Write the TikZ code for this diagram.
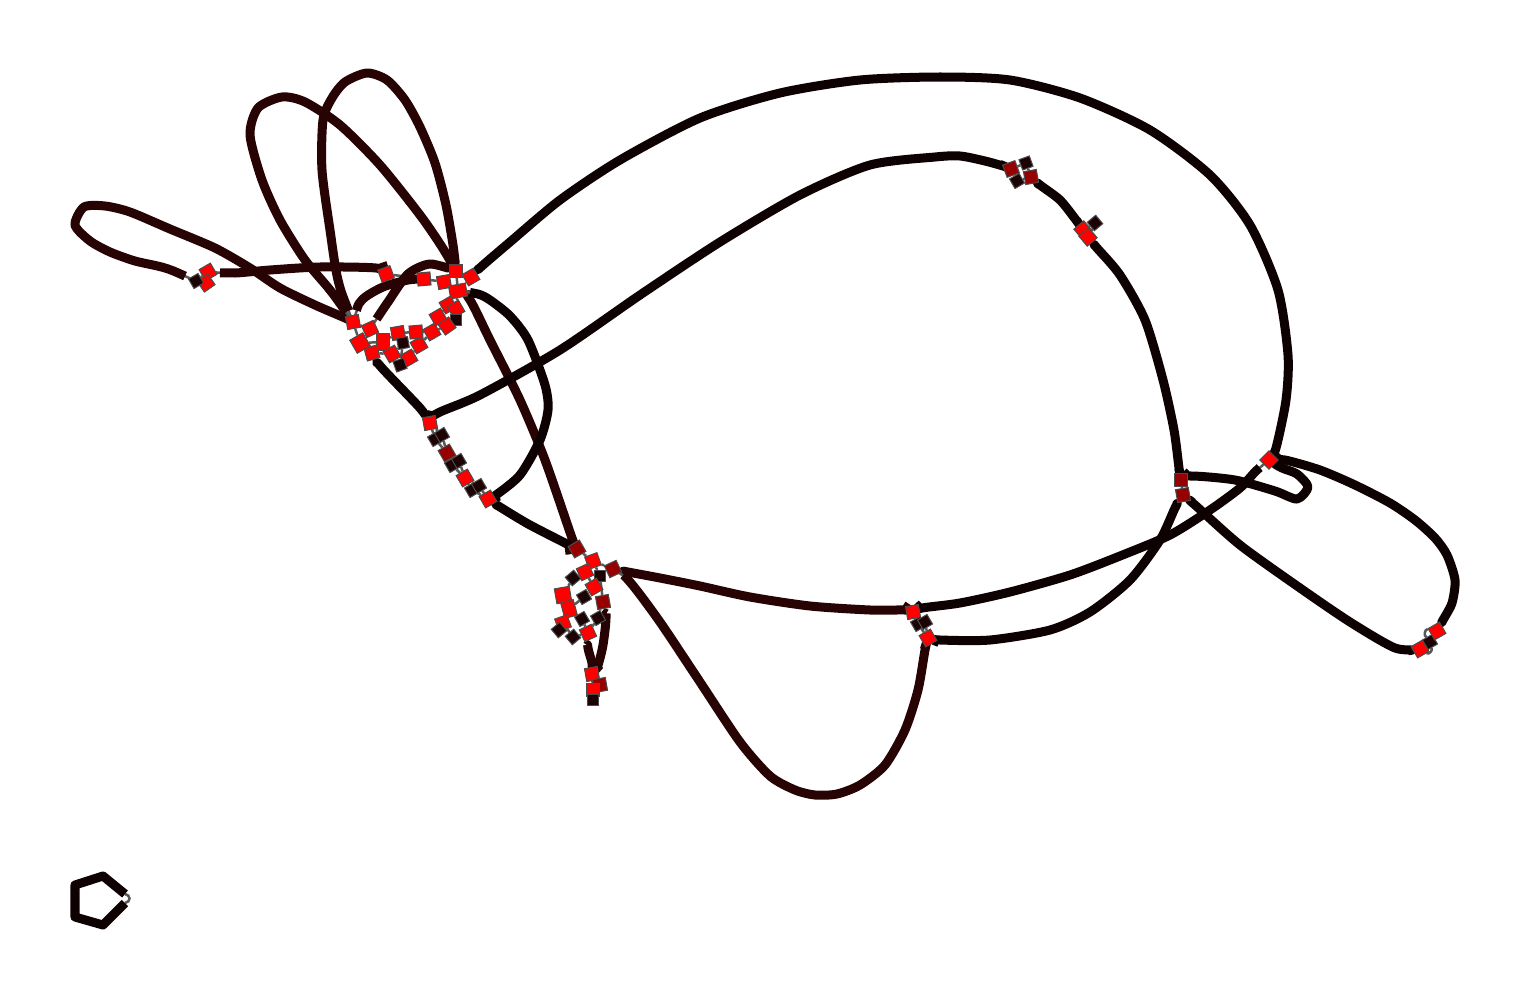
\documentclass[tikz,border=0pt]{standalone}
\usetikzlibrary{calc}
\definecolor{segc}{RGB}{40,3,3}
\definecolor{segk}{RGB}{14,1,1}
\definecolor{hotred}{RGB}{255,0,0}
\definecolor{midred}{RGB}{150,0,0}
\definecolor{darkred}{RGB}{28,2,2}
\pgfdeclarelayer{bg}
\pgfsetlayers{bg,main}
% one contig: grey link underneath, thick body on top
\newcommand{\segpath}[2][segk]{%
  \draw[link] plot[smooth, tension=0.45] coordinates {#2};
  \draw[seg,#1] plot[smooth, tension=0.45] coordinates {#2};}

\begin{document}
\begin{tikzpicture}[
  x=0.01cm, y=-0.01cm,
  rn/.style={draw=black!70, fill=hotred, line width=0.1mm, minimum size=1.3mm, inner sep=0pt},
  dn/.style={rn, fill=midred},
  kn/.style={rn, fill=darkred, minimum size=1.1mm},
  seg/.style={line width=0.9mm, line join=round, shorten <=1.2mm, shorten >=1.2mm},
  link/.style={draw=gray!70!black, line width=0.25mm}
]
  \useasboundingbox (0,0) rectangle (1530,1000);

  % left end
  \node[rn, rotate=30] (pa) at (208,272) {};
  \node[rn, rotate=35] (pb) at (206,283) {};
  \node[kn, rotate=30] (pc) at (196,281) {};

  % upper hub
  \node[rn, rotate=20] (h1) at (386,274) {};
  \node[rn, rotate=5]  (h2) at (424,279) {};
  \node[rn, rotate=10] (h3) at (444,282) {};
  \node[rn]            (h4) at (456,271) {};
  \node[rn, rotate=30] (h5) at (471,277) {};
  \node[rn, rotate=10, minimum width=1.7mm] (h6) at (458,291) {};
  \node[rn, rotate=30] (h7) at (448,305) {};
  \node[rn, rotate=30] (h8) at (456,309) {};
  \node[kn]            (h9) at (456,320) {};
  \node[rn, rotate=30] (h10) at (438,317) {};
  \node[rn, rotate=35] (h11) at (447,326) {};
  \node[rn, rotate=30] (h12) at (432,332) {};
  \node[rn, rotate=30] (h13) at (419,345) {};
  \node[rn, rotate=30] (h14) at (409,358) {};
  \node[rn, rotate=5]  (h15) at (416,332) {};
  \node[rn, rotate=10] (h16) at (398,333) {};
  \node[rn, minimum height=1.7mm] (h17) at (383,342) {};
  \node[kn, rotate=10] (h18) at (403,343) {};
  \node[rn, rotate=30] (h19) at (392,354) {};
  \node[kn, rotate=20] (h20) at (400,365) {};
  \node[rn, rotate=15] (h21) at (372,353) {};
  \node[rn, rotate=30, minimum size=1.5mm] (h22) at (360,343) {};
  \node[rn, rotate=25] (h23) at (370,329) {};
  \node[rn, rotate=10] (h24) at (353,322) {};

  % middle chain
  \node[rn, rotate=10] (m1) at (430,423) {};
  \node[kn, rotate=30] (m2) at (435,439) {};
  \node[kn, rotate=30] (m2b) at (442,435) {};
  \node[dn, rotate=30] (m3) at (447,453) {};
  \node[kn, rotate=30] (m4) at (452,465) {};
  \node[kn, rotate=30] (m4b) at (459,461) {};
  \node[rn, rotate=30] (m5) at (465,478) {};
  \node[kn, rotate=30] (m6) at (472,490) {};
  \node[kn, rotate=30] (m6b) at (479,486) {};
  \node[rn, rotate=30] (m7) at (488,499) {};

  % lower hub
  \node[dn, rotate=30] (b1) at (577,549) {};
  \node[rn, rotate=20] (b2) at (593,561) {};
  \node[dn, rotate=25] (b3) at (613,569) {};
  \node[kn, rotate=40] (b4) at (573,578) {};
  \node[rn, rotate=25] (b5) at (585,572) {};
  \node[kn] (b6) at (600,576) {};
  \node[rn, rotate=30] (b7) at (594,587) {};
  \node[dn, rotate=10] (b8) at (603,602) {};
  \node[kn, rotate=30] (b9) at (584,597) {};
  \node[rn, rotate=10, minimum size=1.5mm] (b10) at (563,595) {};
  \node[rn, rotate=15, minimum height=1.6mm] (b11) at (569,609) {};
  \node[rn, rotate=20] (b12) at (563,623) {};
  \node[kn, rotate=30] (b13) at (582,619) {};
  \node[kn, rotate=30] (b14) at (598,618) {};
  \node[rn, rotate=25] (b15) at (588,633) {};
  \node[kn, rotate=40] (b16) at (573,637) {};
  \node[kn, rotate=40] (b17) at (559,630) {};
  \node[rn, rotate=10] (b18) at (592,674) {};
  \node[dn, rotate=10] (b19) at (600,685) {};
  \node[rn] (b20) at (593,690) {};
  \node[kn] (b21) at (593,700) {};

  % top right
  \node[dn, rotate=20] (t1) at (1011,169) {};
  \node[kn, rotate=20] (t2) at (1026,163) {};
  \node[dn, rotate=10] (t3) at (1031,177) {};
  \node[kn, rotate=30] (t4) at (1017,181) {};
  \node[rn, rotate=40] (u1) at (1083,230) {};
  \node[rn, rotate=40] (u2) at (1088,237) {};
  \node[kn, rotate=40] (u3) at (1095,223) {};

  % right side
  \node[dn] (r1) at (1181,480) {};
  \node[dn, rotate=10] (r2) at (1183,495) {};
  \node[rn, rotate=45] (rr) at (1269,460) {};
  \node[rn, rotate=30] (q1) at (1420,649) {};
  \node[kn, rotate=30] (q2) at (1430,642) {};
  \node[rn, rotate=30] (q3) at (1437,631) {};

  % bottom bubble
  \node[rn, rotate=10] (n1) at (913,612) {};
  \node[kn, rotate=30] (n2) at (918,624) {};
  \node[kn, rotate=30] (n3) at (925,622) {};
  \node[rn, rotate=30] (n4) at (928,638) {};

  \coordinate (pe) at (125,894);
  \coordinate (pf) at (125,903);

  \begin{pgfonlayer}{bg}
  % short links
  \draw[link] (pa) -- (pb) -- (pc) -- (pa);
  \draw[link] (h1) -- (h2) -- (h3) -- (h6);
  \draw[link] (h4) -- (h6) -- (h5) -- (h4);
  \draw[link] (h6) -- (h7) -- (h10) -- (h11) -- (h12) -- (h13) -- (h14) -- (h20);
  \draw[link] (h6) -- (h8) -- (h9) -- (h11);
  \draw[link] (h12) -- (h15) -- (h16) -- (h18) -- (h19) -- (h21) -- (h22);
  \draw[link] (h18) -- (h20);
  \draw[link] (h16) -- (h17) -- (h22) -- (h23) -- (h24) -- (h22);
  \draw[link] (m1) -- (m2) -- (m3) -- (m4) -- (m5) -- (m6) -- (m7);
  \draw[link] (m1) -- (m2b) -- (m3) -- (m4b) -- (m5) -- (m6b) -- (m7);
  \draw[link] (b1) -- (b2) -- (b3);
  \draw[link] (b2) -- (b5) -- (b4) -- (b10) -- (b11) -- (b12) -- (b16) -- (b15);
  \draw[link] (b2) -- (b6) -- (b8) -- (b14) -- (b15);
  \draw[link] (b5) -- (b7) -- (b9) -- (b11) -- (b13) -- (b15);
  \draw[link] (b12) -- (b17);
  \draw[link] (b18) -- (b19) -- (b21) -- (b20) -- (b18);
  \draw[link] (t1) -- (t2) -- (t3) -- (t4) -- (t1);
  \draw[link] (u1) -- (u2) -- (u3) -- (u1);
  \draw[link] (r1) -- (r2);
  \draw[link] (q1) -- (q2) -- (q3);
  \draw[link] (q1) to[bend right=70] (q2);
  \draw[link] (q2) to[bend left=70] (q3);
  \draw[link] (n1) -- (n2) -- (n4) -- (n3) -- (n1);
  \draw[link] (pe) .. controls (131,895) and (131,902) .. (pf);

  % petals on the left
  \segpath[segc]{(pc.center) (165,268) (135,261) (110,252) (90,241) (75,225) (84,207) (105,206)
    (130,212) (170,229) (215,248) (250,268) (280,288) (315,305) (345,318) (h24.center)}
  \segpath[segc]{(pa.center) (235,273) (270,270) (320,267) (376,268) (h1.center)}
  \segpath[segc]{(h24.center) (330,290) (305,260) (280,220) (262,180) (250,135) (258,108)
    (282,97) (305,102) (340,125) (380,165) (420,215) (442,247) (h4.center)}
  \segpath[segc]{(h24.center) (338,280) (330,230) (322,170) (323,120) (332,98) (345,82)
    (367,73) (387,80) (405,100) (420,127) (435,163) (446,205) (453,245) (h4.center)}
  \segpath[segc]{(h24.center) (362,300) (383,287) (408,280) (h2.center)}
  \segpath[segc]{(h23.center) (388,302) (408,274) (430,264) (h4.center)}

  % hub outlets
  \segpath{(h21.center) (382,368) (420,408) (m1.center)}
  \segpath[segc]{(h6.center) (470,300) (490,340) (520,400) (545,460) (572,538) (b1.center)}
  \segpath{(h6.center) (478,294) (490,300) (510,316) (528,340) (545,385) (548,410)
    (540,440) (520,475) (496,495) (m7.center)}
  \segpath{(m7.center) (500,507) (530,525) (b1.center)}
  \segpath[segc]{(b15.center) (588,648) (592,663) (b18.center)}
  \segpath[segc]{(b8.center) (606,618) (603,645) (598,665) (b18.center)}

  % long arcs
  \segpath{(h5.center) (482,266) (510,242) (560,200) (620,160) (700,118) (780,93) (860,80)
    (940,77) (1010,80) (1080,98) (1150,130) (1210,175) (1250,225) (1278,290)
    (1288,355) (1286,400) (1276,448) (rr.center)}
  \segpath{(m1.center) (438,413) (480,395) (560,350) (640,295) (720,242) (800,195)
    (870,165) (935,157) (960,156) (985,161) (1003,166) (t1.center)}
  \segpath{(t3.center) (1040,185) (1060,200) (1076,220) (u1.center)}
  \segpath{(u2.center) (1097,248) (1120,275) (1145,320) (1163,380) (1174,430)
    (1179,468) (r1.center)}
  \segpath{(r1.center) (1192,476) (1235,480) (1275,491) (1297,499) (1308,487)
    (1297,474) (1282,468) (rr.center)}
  \segpath{(rr.center) (1255,472) (1240,488) (1210,510) (1170,535) (1120,556)
    (1070,575) (1010,592) (960,603) (922,608) (n1.center)}
  \segpath{(r2.center) (1175,508) (1160,540) (1130,580) (1090,612) (1050,630)
    (990,640) (940,640) (n4.center)}
  \segpath{(r2.center) (1195,505) (1240,545) (1300,588) (1350,622) (1395,648) (q1.center)}
  \segpath{(q3.center) (1443,620) (1452,603) (1455,580) (1447,555) (1435,538)
    (1415,520) (1390,503) (1355,485) (1320,470) (1285,460) (rr.center)}
  \segpath[segc]{(b3.center) (628,572) (660,578) (700,586) (750,597) (810,606)
    (870,610) (905,610) (n1.center)}
  \segpath[segc]{(b3.center) (630,582) (660,622) (700,682) (740,742) (770,776)
    (795,790) (815,795) (837,794) (860,785) (885,765) (905,730) (918,690)
    (925,650) (n4.center)}

  % lone circle
  \draw[line width=0.9mm, segk, line join=round] (pf) -- (103,925) -- (75,917)
    -- (75,885) -- (103,876) -- (pe);
  \end{pgfonlayer}
\end{tikzpicture}
\end{document}
